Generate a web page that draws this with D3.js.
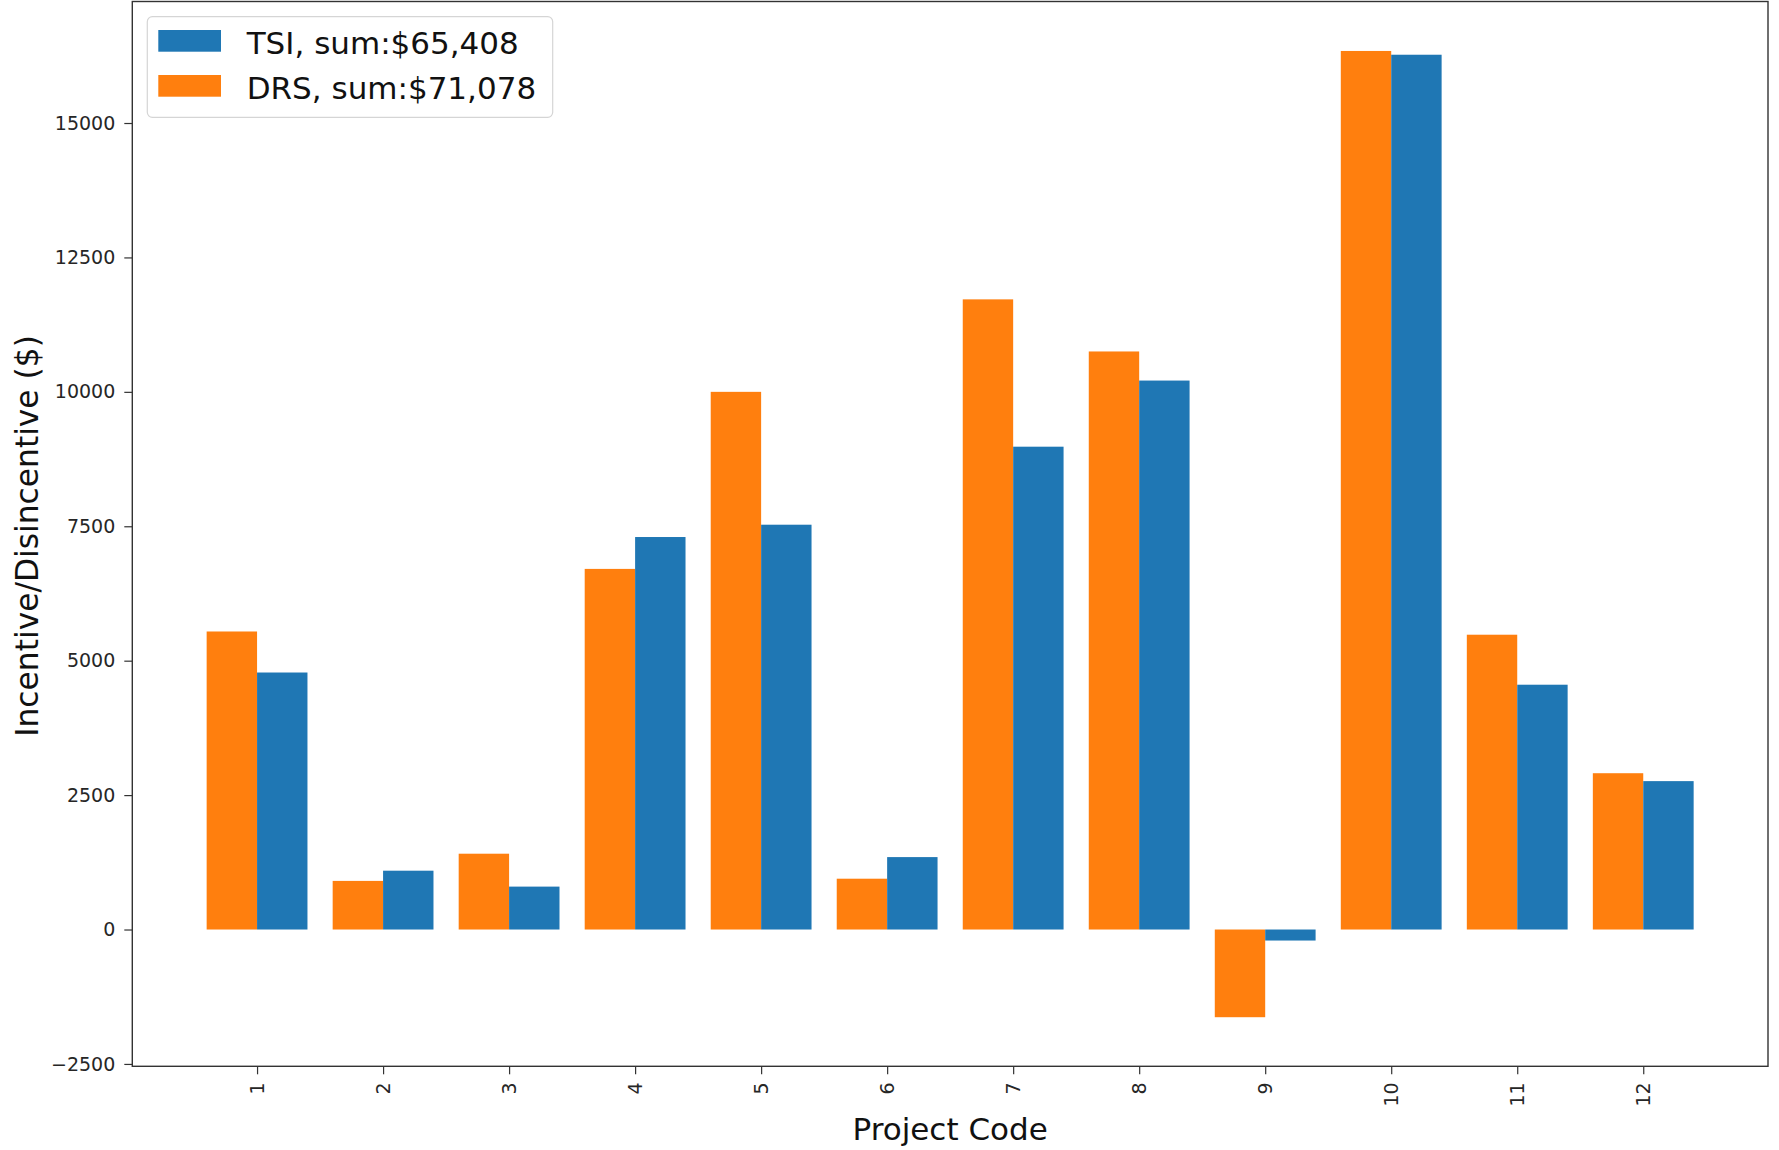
<!DOCTYPE html>
<html>
<head>
<meta charset="utf-8">
<script src="https://cdn.jsdelivr.net/npm/d3@7"></script>
<style>
  html, body { margin: 0; padding: 0; background: #fff; }
  svg { display: block; }
  text { font-family: "DejaVu Sans", sans-serif; }
</style>
</head>
<body>
<svg id="chart" width="1779" height="1150"></svg>
<script>
// ---- data ----
const categories = ["1","2","3","4","5","6","7","8","9","10","11","12"];
const drsValues = [5543, 904, 1410, 6707, 10000, 945, 11720, 10751, -1631, 16340, 5483, 2907];
const tsiValues = [4780, 1094, 798, 7300, 7529, 1347, 8980, 10210, -205, 16270, 4553, 2760];
const yTickValues = [-2500, 0, 2500, 5000, 7500, 10000, 12500, 15000];
const yTickLabels = ["\u22122500", "0", "2500", "5000", "7500", "10000", "12500", "15000"];
const legendLabels = ["TSI, sum:$65,408", "DRS, sum:$71,078"];

(function () {
// ---- layout ----
const svg = d3.select("#chart");
const pLeft = 132.3, pRight = 1768, pTop = 1.5, pBottom = 1066.3;
const BLUE = "#1f77b4", ORANGE = "#ff7f0e";

const x = d3.scaleLinear().domain([0.01, 12.99]).range([pLeft, pRight]);
const y = d3.scaleLinear().domain([-2544, 17260]).range([pBottom, pTop]);
const barW = 0.4;

const g = svg.append("g");

// bars: DRS left, TSI right
g.selectAll("rect.drs").data(drsValues).enter().append("rect")
  .attr("class", "drs")
  .attr("x", (d, i) => x(i + 1 - barW))
  .attr("width", x(barW) - x(0))
  .attr("y", d => y(Math.max(0, d)))
  .attr("height", d => Math.abs(y(d) - y(0)))
  .attr("fill", ORANGE);

g.selectAll("rect.tsi").data(tsiValues).enter().append("rect")
  .attr("class", "tsi")
  .attr("x", (d, i) => x(i + 1))
  .attr("width", x(barW) - x(0))
  .attr("y", d => y(Math.max(0, d)))
  .attr("height", d => Math.abs(y(d) - y(0)))
  .attr("fill", BLUE);

// y axis
const yAxis = d3.axisLeft(y).tickValues(yTickValues)
  .tickFormat((d, i) => yTickLabels[i]).tickSize(8).tickPadding(9);
const ya = svg.append("g").attr("transform", `translate(${pLeft},0)`).call(yAxis);
ya.select(".domain").remove();
ya.selectAll(".tick line").attr("stroke", "#333").attr("stroke-width", 1.2);
ya.selectAll(".tick text").attr("font-size", 19).attr("fill", "#262626")
  .attr("font-family", "DejaVu Sans");

// x axis
const xAxis = d3.axisBottom(x).tickValues(categories.map((c, i) => i + 1))
  .tickFormat((d, i) => categories[i]).tickSize(8).tickPadding(0);
const xa = svg.append("g").attr("transform", `translate(0,${pBottom})`).call(xAxis);
xa.select(".domain").remove();
xa.selectAll(".tick line").attr("stroke", "#333").attr("stroke-width", 1.2);
xa.selectAll(".tick text")
  .attr("font-size", 19).attr("fill", "#262626").attr("font-family", "DejaVu Sans")
  .attr("transform", "rotate(-90)")
  .attr("x", -16).attr("y", 0).attr("dy", "0.35em")
  .attr("text-anchor", "end");

// frame
svg.append("rect").attr("x", pLeft).attr("y", pTop)
  .attr("width", pRight - pLeft).attr("height", pBottom - pTop)
  .attr("fill", "none").attr("stroke", "#333").attr("stroke-width", 1.4);

// axis labels
svg.append("text").attr("x", (pLeft + pRight) / 2).attr("y", 1140)
  .attr("text-anchor", "middle").attr("font-size", 31).attr("fill", "#111")
  .text("Project Code");
svg.append("text")
  .attr("transform", `translate(38,${(pTop + pBottom) / 2 + 2}) rotate(-90)`)
  .attr("text-anchor", "middle").attr("font-size", 31.3).attr("fill", "#111")
  .text("Incentive/Disincentive ($)");

// legend
const lg = svg.append("g");
lg.append("rect").attr("x", 147.3).attr("y", 16.7).attr("width", 405.4).attr("height", 100.6)
  .attr("rx", 5).attr("fill", "#fff").attr("fill-opacity", 0.8)
  .attr("stroke", "#d5d5d5").attr("stroke-width", 1.2);
const legColors = [BLUE, ORANGE];
legendLabels.forEach((lab, i) => {
  lg.append("rect").attr("x", 158.3).attr("y", 30 + i * 45).attr("width", 62.7).attr("height", 21.7)
    .attr("fill", legColors[i]);
  lg.append("text").attr("x", 246.7).attr("y", 54 + i * 44.5)
    .attr("font-size", 31).attr("fill", "#111").text(lab);
});
})();
</script>
</body>
</html>
